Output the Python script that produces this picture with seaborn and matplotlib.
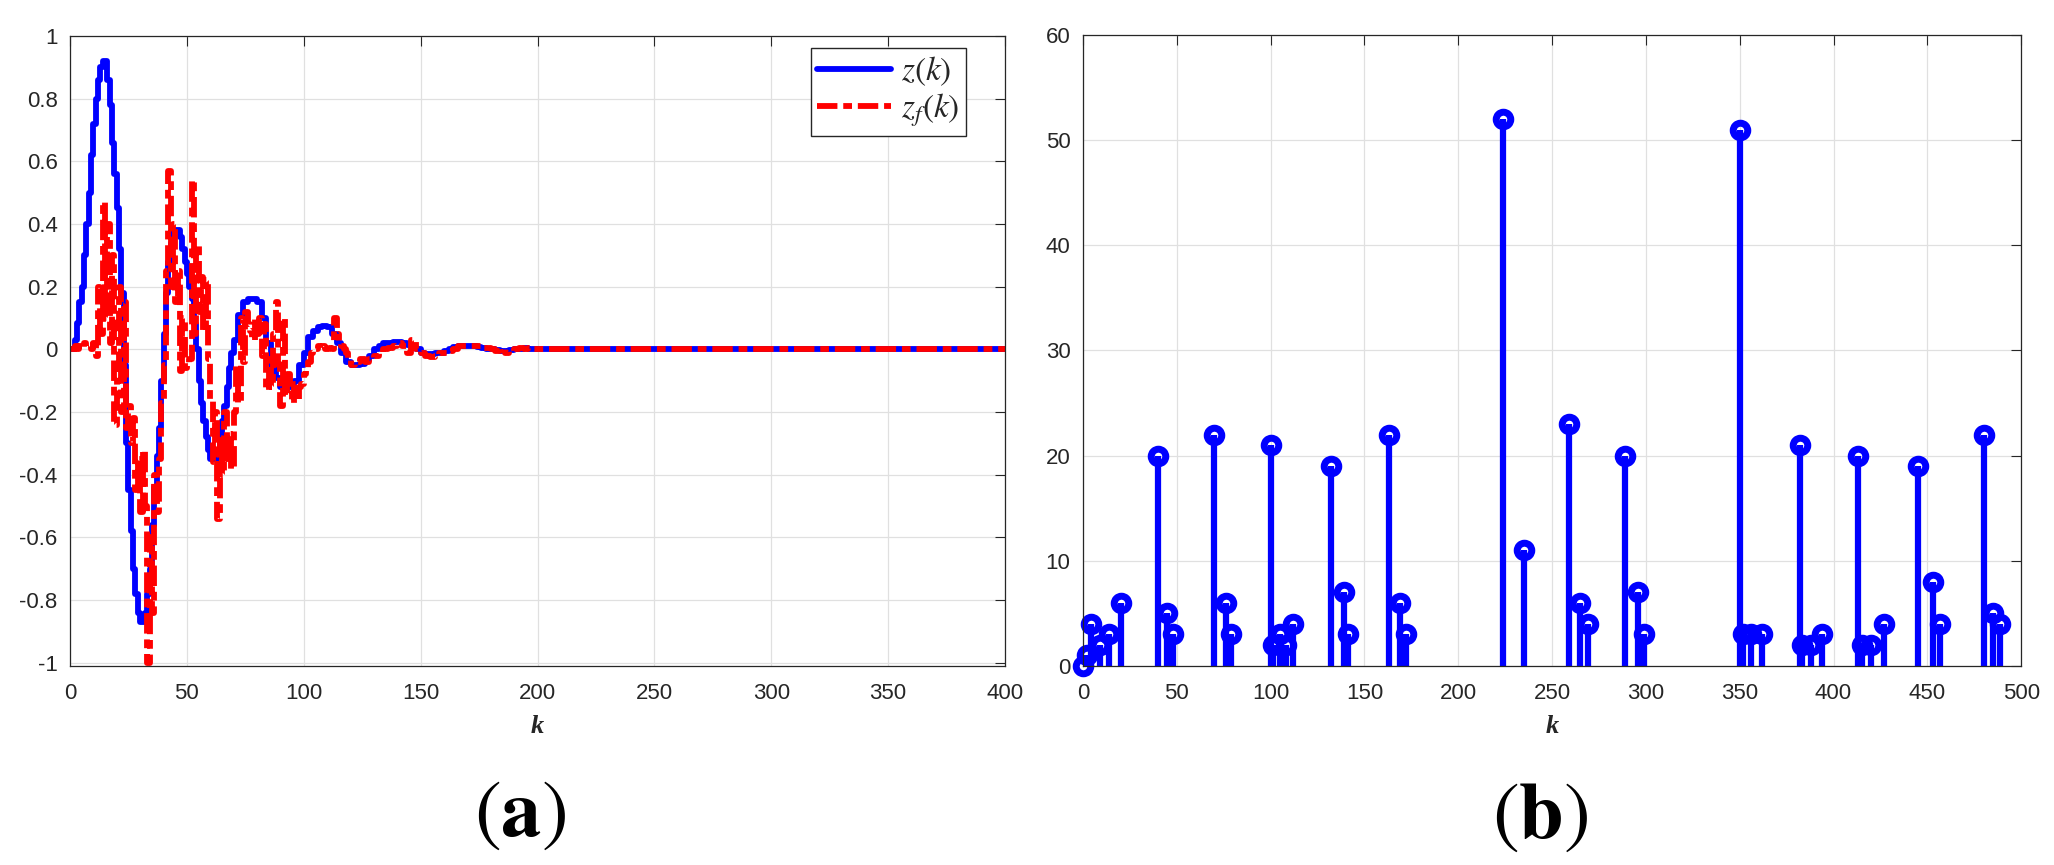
import numpy as np
import matplotlib
matplotlib.use('Agg')
import matplotlib.pyplot as plt
import seaborn as sns

# (a) event-triggered state z(k) and its filtered version z_f(k)
k_z = list(range(0, 70)) + list(range(70, 200, 2)) + [200, 400]
z = [0, 0.0, 0.03, 0.085, 0.15, 0.2, 0.3, 0.4, 0.5, 0.62,
     0.72, 0.8, 0.86, 0.9, 0.92, 0.92, 0.86, 0.78, 0.66, 0.56,
     0.45, 0.32, 0.18, -0.05, -0.3, -0.45, -0.58, -0.7, -0.78, -0.84,
     -0.87, -0.87, -0.84, -0.78, -0.7, -0.56, -0.44, -0.34, -0.25, -0.1,
     0.05, 0.18, 0.28, 0.34, 0.38, 0.38, 0.38, 0.36, 0.32, 0.28,
     0.24, 0.2, 0.16, 0.08, 0.0, -0.1, -0.17, -0.23, -0.28, -0.32,
     -0.35, -0.35, -0.35, -0.32, -0.27, -0.23, -0.18, -0.12, -0.06, -0.01,
     0.03, 0.11, 0.15, 0.16, 0.16,                      # k 70-78
     0.15, 0.1, 0.02, -0.05, -0.09, -0.12, -0.12, -0.12, -0.1, -0.05,
     -0.01, 0.04, 0.06, 0.07, 0.075, 0.07, 0.05, 0.02, -0.01, -0.04,
     -0.05, -0.05, -0.045, -0.035, -0.02, 0.0, 0.01, 0.02, 0.022, 0.025,
     0.025, 0.022, 0.015, 0.008, 0.0, -0.01, -0.014, -0.015, -0.012, -0.01,
     -0.005, 0.0, 0.008, 0.01, 0.012, 0.012, 0.01, 0.008, 0.005, 0.002,
     0.0, -0.003, -0.005, -0.005, -0.003, 0.0, 0.002, 0.003, 0.002, 0.0,
     0.0, 0.0]

k_zf = list(range(0, 121)) + list(range(122, 201, 2)) + [400]
zf = [0, 0, 0.01, 0.0, 0.01, 0.005, 0.02, 0.01, 0.015, 0.0,
      0.02, -0.02, 0.2, 0.05, 0.47, 0.1, 0.4, 0.02, 0.3, -0.24,
      -0.1, 0.2, -0.2, 0.15, -0.25, -0.18, -0.3, -0.22, -0.45, -0.35,
      -0.52, -0.32, -0.5, -1.0, -0.6, -0.84, -0.4, -0.52, -0.35, -0.17,
      -0.05, 0.25, 0.57, 0.2, 0.4, 0.15, 0.25, -0.07, 0.1, -0.06,
      -0.05, -0.03, 0.54, 0.05, 0.33, 0.12, 0.23, 0.06, 0.22, -0.03,
      -0.16, -0.36, -0.2, -0.54, -0.28, -0.4, -0.2, -0.35, -0.27, -0.38,
      -0.2, -0.05, -0.17, 0.1, -0.04, 0.12, 0.08, 0.06, 0.03, 0.1,
      0.05, 0.1, -0.02, 0.08, -0.13, -0.03, -0.12, 0.05, 0.15, -0.05,
      -0.18, 0.1, -0.15, -0.08, -0.12, -0.17, -0.11, -0.16, -0.12, -0.11,
      -0.08, -0.06, -0.04, -0.01, 0.0, 0.0, 0.01, 0.0, 0.01, 0.0,
      0.0, 0.005, 0.0, 0.1, 0.05, 0.02, 0.01, 0.0, -0.01, -0.03,
      -0.05,
      -0.04, -0.03, -0.04, -0.03, -0.02, -0.01, 0.0, 0.005, 0.01, 0.02,
      0.01, -0.01, 0.03, 0.0, -0.01, -0.02, -0.025, -0.02, -0.01, -0.01,
      -0.005, 0.0, 0.01, 0.01, 0.012, 0.01, 0.01, 0.005, 0.005, 0.0,
      -0.005, 0.0, -0.01, -0.005, 0.0, 0.005, 0.0, 0.003, 0.0, 0.002,
      0.0]

# (b) inter-event intervals
stem_k = [0, 2, 4, 9, 14, 20, 40, 45, 48, 70, 76, 79, 100, 101, 105, 108, 112,
          132, 139, 141, 163, 169, 172, 224, 235, 259, 265, 269, 289, 296, 299,
          350, 352, 356, 362, 382, 383, 388, 394, 413, 415, 420, 427,
          445, 453, 457, 480, 485, 489]
stem_v = [0, 1, 4, 2, 3, 6, 20, 5, 3, 22, 6, 3, 21, 2, 3, 2, 4,
          19, 7, 3, 22, 6, 3, 52, 11, 23, 6, 4, 20, 7, 3,
          51, 3, 3, 3, 21, 2, 2, 3, 20, 2, 2, 4,
          19, 8, 4, 22, 5, 4]

x_ticks_a = [0, 50, 100, 150, 200, 250, 300, 350, 400]
y_ticks_a = [-1, -0.8, -0.6, -0.4, -0.2, 0, 0.2, 0.4, 0.6, 0.8, 1]
x_ticks_b = [0, 50, 100, 150, 200, 250, 300, 350, 400, 450, 500]
y_ticks_b = [0, 10, 20, 30, 40, 50, 60]

sns.set_style("whitegrid")
plt.rcParams['font.family'] = ['Liberation Sans', 'DejaVu Sans']
plt.rcParams['mathtext.fontset'] = 'stix'
plt.rcParams['axes.unicode_minus'] = False

dark = '#262626'

fig = plt.figure(figsize=(20.54, 8.65), dpi=100)
ax1 = fig.add_axes([0.0341, 0.2301, 0.4552, 0.7283])
ax2 = fig.add_axes([0.5273, 0.2301, 0.4567, 0.7295])


def style_axes(ax):
    ax.set_facecolor('white')
    ax.grid(True, color='#e0e0e0', linewidth=0.9)
    ax.set_axisbelow(True)
    for s in ax.spines.values():
        s.set_visible(True)
        s.set_color(dark)
        s.set_linewidth(0.9)
    ax.tick_params(direction='in', length=7, width=0.8, top=True, right=True,
                   labelsize=16, colors=dark, pad=9)
    ax.tick_params(axis='x', pad=12)


sns.lineplot(x=k_z, y=z, ax=ax1, color='blue', linewidth=4.2,
             drawstyle='steps-post', estimator=None, sort=False,
             label=r'$z(k)$')
sns.lineplot(x=k_zf, y=zf, ax=ax1, color='red', linewidth=4.2,
             drawstyle='steps-post', estimator=None, sort=False,
             linestyle=(0, (3.5, 1, 1.5, 1)), label=r'$z_f(k)$')
style_axes(ax1)
ax1.set_xlim(0, 400)
ax1.set_ylim(-1.01, 1)
ax1.set_xticks(x_ticks_a)
ax1.set_yticks(y_ticks_a)
ax1.set_yticklabels([f'{v:g}' for v in y_ticks_a])
ax1.set_xlabel('k', fontsize=19, fontstyle='italic', fontweight='bold',
               family='Liberation Serif', labelpad=8)
ax1.set_ylabel('')
leg = ax1.legend(loc='upper right', bbox_to_anchor=(0.958, 0.981),
                 borderaxespad=0, fontsize=24, fancybox=False, framealpha=1,
                 edgecolor=dark, handlelength=2.2, borderpad=0.2,
                 labelspacing=0.1, handletextpad=0.3)
leg.get_frame().set_linewidth(1.0)

markerline, stemlines, baseline = ax2.stem(stem_k, stem_v, linefmt='b-',
                                           markerfmt='bo', basefmt=' ')
stemlines.set_linewidth(4.5)
markerline.set_markerfacecolor('none')
markerline.set_markeredgecolor('blue')
markerline.set_markersize(10.5)
markerline.set_markeredgewidth(5)
markerline.set_clip_on(False)
style_axes(ax2)
ax2.set_xlim(0, 500)
ax2.set_ylim(0, 60)
ax2.set_xticks(x_ticks_b)
ax2.set_yticks(y_ticks_b)
ax2.set_xlabel('k', fontsize=19, fontstyle='italic', fontweight='bold',
               family='Liberation Serif', labelpad=8)

fig.text(0.2532, 0.0578, r'$(\mathbf{a})$', ha='center', va='center',
         fontsize=58, color='black')
fig.text(0.7498, 0.0555, r'$(\mathbf{b})$', ha='center', va='center',
         fontsize=58, color='black')

fig.savefig('out.png', dpi=100, facecolor='white')
print("Figura salva como 'out.png'")
